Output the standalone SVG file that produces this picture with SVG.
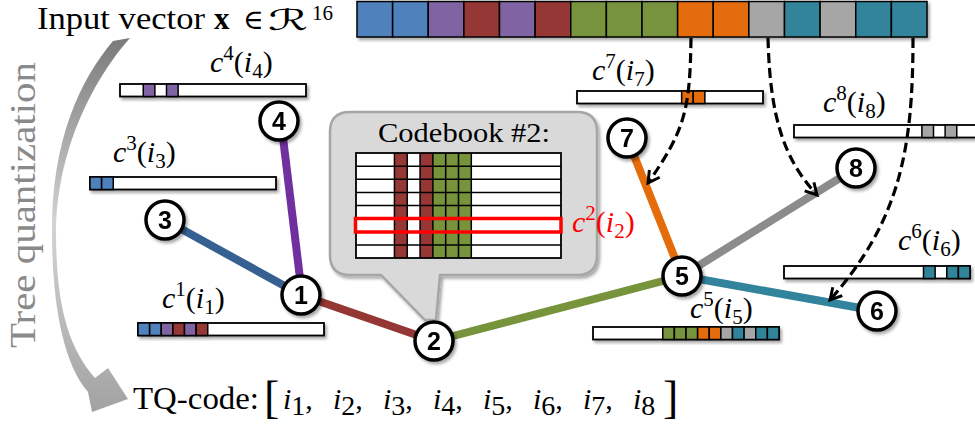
<svg xmlns="http://www.w3.org/2000/svg" width="975" height="425" viewBox="0 0 975 425">
<defs>
<style>
.bar{fill:#fff;stroke:#000;stroke-width:1.8}
.cell{stroke:#000;stroke-width:1.5}
.b{fill:#4F81BD}.p{fill:#8064A2}.r{fill:#953735}.g{fill:#77933C}.o{fill:#E46C0A}.y{fill:#A6A6A6}.t{fill:#31849B}
.edge{stroke-width:8;fill:none}
.node circle{fill:#fff;stroke:#000;stroke-width:3.5}
.node text{font-family:"Liberation Sans",Arial,sans-serif;font-weight:bold;font-size:25px;text-anchor:middle;fill:#000}
.serif{font-family:"Liberation Serif","DejaVu Serif",serif;fill:#000}
.lab{font-family:"Liberation Serif","DejaVu Serif",serif;font-size:30px;fill:#000}
.it{font-style:italic}
.dash{stroke:#000;stroke-width:3.2;stroke-dasharray:10 5;fill:none;marker-end:url(#ah)}
</style>
<filter id="sh" x="-20%" y="-20%" width="150%" height="160%">
<feDropShadow dx="2" dy="2.5" stdDeviation="1.5" flood-color="#000" flood-opacity="0.35"/>
</filter>
<marker id="ah" viewBox="0 0 14 14" refX="12" refY="7" markerWidth="16" markerHeight="16" markerUnits="userSpaceOnUse" orient="auto">
<path d="M2,1.5 L12,7 L2,12.5" fill="none" stroke="#000" stroke-width="2.6"/>
</marker>
<linearGradient id="gg" x1="0" y1="0" x2="0" y2="1">
<stop offset="0" stop-color="#7a7a7a"/>
<stop offset="0.5" stop-color="#d4d4d4"/>
<stop offset="1" stop-color="#a2a2a2"/>
</linearGradient>
</defs>

<!-- title -->
<g id="title">
<text class="serif" x="37" y="29" font-size="31" textLength="168" lengthAdjust="spacingAndGlyphs">Input vector</text>
<text class="serif" x="214" y="29" font-size="31" font-weight="bold">x</text>
<text class="serif" x="243" y="29" font-size="28">∈</text>
<text x="268" y="30" font-size="29" textLength="40" lengthAdjust="spacingAndGlyphs" style="font-family:'DejaVu Sans','DejaVu Serif',serif;fill:#000">ℛ</text>
<text class="serif" x="312" y="20" font-size="21">16</text>
</g>

<!-- input vector -->
<g id="input-vector" filter="url(#sh)">
<rect class="cell b" x="357" y="1.5" width="35.625" height="35.5"/>
<rect class="cell b" x="392.625" y="1.5" width="35.625" height="35.5"/>
<rect class="cell p" x="428.25" y="1.5" width="35.625" height="35.5"/>
<rect class="cell r" x="463.875" y="1.5" width="35.625" height="35.5"/>
<rect class="cell p" x="499.5" y="1.5" width="35.625" height="35.5"/>
<rect class="cell r" x="535.125" y="1.5" width="35.625" height="35.5"/>
<rect class="cell g" x="570.75" y="1.5" width="35.625" height="35.5"/>
<rect class="cell g" x="606.375" y="1.5" width="35.625" height="35.5"/>
<rect class="cell g" x="642" y="1.5" width="35.625" height="35.5"/>
<rect class="cell o" x="677.625" y="1.5" width="35.625" height="35.5"/>
<rect class="cell o" x="713.25" y="1.5" width="35.625" height="35.5"/>
<rect class="cell y" x="748.875" y="1.5" width="35.625" height="35.5"/>
<rect class="cell t" x="784.5" y="1.5" width="35.625" height="35.5"/>
<rect class="cell y" x="820.125" y="1.5" width="35.625" height="35.5"/>
<rect class="cell t" x="855.75" y="1.5" width="35.625" height="35.5"/>
<rect class="cell t" x="891.375" y="1.5" width="35.625" height="35.5"/>
</g>

<!-- tree quantization arrow -->
<g id="tq-arrow">
<path d="M113,41 L130,38 C110,60 58,130 56,230 C56,300 66,345 95,378 L108,368 L128,399 L92,412 L88,392 C62,362 52,300 52,230 C52,140 80,80 113,41 Z" fill="url(#gg)"/>
<text transform="translate(35,348) rotate(-90)" font-size="36" style="font-family:'Liberation Serif','DejaVu Serif',serif;fill:#8a8a8a" textLength="286" lengthAdjust="spacingAndGlyphs">Tree quantization</text>
</g>

<!-- codeword bars -->
<g id="bar-c4" filter="url(#sh)">
<rect class="bar" x="120" y="84" width="186" height="12.5"/>
<rect class="cell p" x="143.25" y="84" width="11.625" height="12.5"/>
<rect class="cell p" x="166.5" y="84" width="11.625" height="12.5"/>
</g>
<g id="bar-c3" filter="url(#sh)">
<rect class="bar" x="90" y="177" width="186" height="12.5"/>
<rect class="cell b" x="90" y="177" width="11.625" height="12.5"/>
<rect class="cell b" x="101.625" y="177" width="11.625" height="12.5"/>
</g>
<g id="bar-c1" filter="url(#sh)">
<rect class="bar" x="138" y="323" width="186" height="12.5"/>
<rect class="cell b" x="138" y="323" width="11.625" height="12.5"/>
<rect class="cell b" x="149.625" y="323" width="11.625" height="12.5"/>
<rect class="cell p" x="161.25" y="323" width="11.625" height="12.5"/>
<rect class="cell r" x="172.875" y="323" width="11.625" height="12.5"/>
<rect class="cell p" x="184.5" y="323" width="11.625" height="12.5"/>
<rect class="cell r" x="196.125" y="323" width="11.625" height="12.5"/>
</g>
<g id="bar-c7" filter="url(#sh)">
<rect class="bar" x="577" y="91" width="186" height="12.5"/>
<rect class="cell o" x="681.625" y="91" width="11.625" height="12.5"/>
<rect class="cell o" x="693.25" y="91" width="11.625" height="12.5"/>
</g>
<g id="bar-c8" filter="url(#sh)">
<rect class="bar" x="794" y="125" width="186" height="12.5"/>
<rect class="cell y" x="921.875" y="125" width="11.625" height="12.5"/>
<rect class="cell y" x="945.125" y="125" width="11.625" height="12.5"/>
</g>
<g id="bar-c6" filter="url(#sh)">
<rect class="bar" x="784" y="266" width="186" height="12.5"/>
<rect class="cell t" x="923.5" y="266" width="11.625" height="12.5"/>
<rect class="cell t" x="946.75" y="266" width="11.625" height="12.5"/>
<rect class="cell t" x="958.375" y="266" width="11.625" height="12.5"/>
</g>
<g id="bar-c5" filter="url(#sh)">
<rect class="bar" x="593" y="327" width="186" height="12.5"/>
<rect class="cell g" x="662.75" y="327" width="11.625" height="12.5"/>
<rect class="cell g" x="674.375" y="327" width="11.625" height="12.5"/>
<rect class="cell g" x="686" y="327" width="11.625" height="12.5"/>
<rect class="cell o" x="697.625" y="327" width="11.625" height="12.5"/>
<rect class="cell o" x="709.25" y="327" width="11.625" height="12.5"/>
<rect class="cell y" x="720.875" y="327" width="11.625" height="12.5"/>
<rect class="cell t" x="732.5" y="327" width="11.625" height="12.5"/>
<rect class="cell y" x="744.125" y="327" width="11.625" height="12.5"/>
<rect class="cell t" x="755.75" y="327" width="11.625" height="12.5"/>
<rect class="cell t" x="767.375" y="327" width="11.625" height="12.5"/>
</g>

<!-- labels -->
<g id="labels">
<text class="lab" x="210" y="72"><tspan class="it">c</tspan><tspan font-size="21" dy="-12">4</tspan><tspan dy="12">(</tspan><tspan class="it">i</tspan><tspan font-size="21" dy="6">4</tspan><tspan dy="-6">)</tspan></text>
<text class="lab" x="113" y="162"><tspan class="it">c</tspan><tspan font-size="21" dy="-12">3</tspan><tspan dy="12">(</tspan><tspan class="it">i</tspan><tspan font-size="21" dy="6">3</tspan><tspan dy="-6">)</tspan></text>
<text class="lab" x="162" y="308"><tspan class="it">c</tspan><tspan font-size="21" dy="-12">1</tspan><tspan dy="12">(</tspan><tspan class="it">i</tspan><tspan font-size="21" dy="6">1</tspan><tspan dy="-6">)</tspan></text>
<text class="lab" x="592" y="80"><tspan class="it">c</tspan><tspan font-size="21" dy="-12">7</tspan><tspan dy="12">(</tspan><tspan class="it">i</tspan><tspan font-size="21" dy="6">7</tspan><tspan dy="-6">)</tspan></text>
<text class="lab" x="823" y="112"><tspan class="it">c</tspan><tspan font-size="21" dy="-12">8</tspan><tspan dy="12">(</tspan><tspan class="it">i</tspan><tspan font-size="21" dy="6">8</tspan><tspan dy="-6">)</tspan></text>
<text class="lab" x="898" y="250"><tspan class="it">c</tspan><tspan font-size="21" dy="-12">6</tspan><tspan dy="12">(</tspan><tspan class="it">i</tspan><tspan font-size="21" dy="6">6</tspan><tspan dy="-6">)</tspan></text>
<text class="lab" x="690" y="318"><tspan class="it">c</tspan><tspan font-size="21" dy="-12">5</tspan><tspan dy="12">(</tspan><tspan class="it">i</tspan><tspan font-size="21" dy="6">5</tspan><tspan dy="-6">)</tspan></text>
</g>

<!-- connectors -->
<g id="connectors">
<line class="edge" x1="281" y1="121" x2="302" y2="295" stroke="#7030A0"/>
<line class="edge" x1="165" y1="220" x2="301" y2="295" stroke="#376092"/>
<line class="edge" x1="301" y1="295" x2="434" y2="341" stroke="#953735"/>
<line class="edge" x1="434" y1="341" x2="682" y2="276" stroke="#77933C"/>
<line class="edge" x1="682" y1="276" x2="627" y2="138" stroke="#E46C0A"/>
<line class="edge" x1="682" y1="276" x2="856" y2="168" stroke="#8C8C8C"/>
<line class="edge" x1="682" y1="276" x2="877" y2="311" stroke="#31849B"/>
<path class="dash" d="M691,38 C690,110 685,130 648,183"/>
<path class="dash" d="M768,38 C770,120 785,160 817,195"/>
<path class="dash" d="M913,38 C913,150 900,220 830,300"/>
</g>

<!-- codebook callout -->
<g id="codebook">
<path d="M350,112 H577 Q597,112 597,132 V255 Q597,275 577,275 H440 L436,320 L425,320 L381,275 H350 Q330,275 330,255 V132 Q330,112 350,112 Z" fill="#D9D9D9" stroke="#A6A6A6" stroke-width="2.5" filter="url(#sh)"/>
<text class="serif" x="378" y="142" font-size="27" textLength="172" lengthAdjust="spacingAndGlyphs">Codebook #2:</text>
<rect x="356" y="153" width="205" height="105" fill="#fff"/>
<rect class="r" x="394.44" y="153" width="12.81" height="105"/>
<rect class="r" x="420.06" y="153" width="12.81" height="105"/>
<rect class="g" x="432.875" y="153" width="38.44" height="105"/>
<path d="M356,166.125H561M356,179.25H561M356,192.375H561M356,205.5H561M356,218.625H561M356,231.75H561M356,244.875H561M394.44,153V258M407.25,153V258M420.06,153V258M432.875,153V258M445.69,153V258M458.5,153V258M471.31,153V258" stroke="#000" stroke-width="1.5" fill="none"/>
<rect x="356" y="153" width="205" height="105" fill="none" stroke="#000" stroke-width="1.8"/>
<rect x="355.5" y="218.5" width="205.5" height="13.5" fill="none" stroke="#FF0000" stroke-width="3.5"/>
<text x="572" y="232" style="font-family:'Liberation Serif','DejaVu Serif',serif;font-size:30px;fill:#FF0000"><tspan class="it">c</tspan><tspan font-size="21" dy="-12">2</tspan><tspan dy="12">(</tspan><tspan class="it">i</tspan><tspan font-size="21" dy="6">2</tspan><tspan dy="-6">)</tspan></text>
</g>

<!-- nodes -->
<g id="node-1" class="node" filter="url(#sh)"><circle cx="301" cy="295" r="19"/><text x="301" y="304">1</text></g>
<g id="node-2" class="node" filter="url(#sh)"><circle cx="434" cy="341" r="19"/><text x="434" y="350">2</text></g>
<g id="node-3" class="node" filter="url(#sh)"><circle cx="165" cy="220" r="19"/><text x="165" y="229">3</text></g>
<g id="node-4" class="node" filter="url(#sh)"><circle cx="279" cy="121" r="19"/><text x="279" y="130">4</text></g>
<g id="node-5" class="node" filter="url(#sh)"><circle cx="682" cy="276" r="19"/><text x="682" y="285">5</text></g>
<g id="node-6" class="node" filter="url(#sh)"><circle cx="877" cy="311" r="19"/><text x="877" y="320">6</text></g>
<g id="node-7" class="node" filter="url(#sh)"><circle cx="627" cy="138" r="19"/><text x="627" y="147">7</text></g>
<g id="node-8" class="node" filter="url(#sh)"><circle cx="856" cy="168" r="19"/><text x="856" y="177">8</text></g>

<!-- TQ code -->
<g id="tq-code">
<text class="serif" x="133" y="409" font-size="31" textLength="126" lengthAdjust="spacingAndGlyphs">TQ-code:</text>
<text class="serif" x="264" y="413" font-size="46">[</text>
<text class="serif" x="663" y="413" font-size="46">]</text>
<text class="lab" x="283" y="409" font-size="40"><tspan class="it">i</tspan><tspan font-size="28" dy="6">1</tspan><tspan dy="-6">,</tspan></text>
<text class="lab" x="333" y="409" font-size="40"><tspan class="it">i</tspan><tspan font-size="28" dy="6">2</tspan><tspan dy="-6">,</tspan></text>
<text class="lab" x="383" y="409" font-size="40"><tspan class="it">i</tspan><tspan font-size="28" dy="6">3</tspan><tspan dy="-6">,</tspan></text>
<text class="lab" x="433" y="409" font-size="40"><tspan class="it">i</tspan><tspan font-size="28" dy="6">4</tspan><tspan dy="-6">,</tspan></text>
<text class="lab" x="483" y="409" font-size="40"><tspan class="it">i</tspan><tspan font-size="28" dy="6">5</tspan><tspan dy="-6">,</tspan></text>
<text class="lab" x="533" y="409" font-size="40"><tspan class="it">i</tspan><tspan font-size="28" dy="6">6</tspan><tspan dy="-6">,</tspan></text>
<text class="lab" x="583" y="409" font-size="40"><tspan class="it">i</tspan><tspan font-size="28" dy="6">7</tspan><tspan dy="-6">,</tspan></text>
<text class="lab" x="633" y="409" font-size="40"><tspan class="it">i</tspan><tspan font-size="28" dy="6">8</tspan></text>
</g>
</svg>
